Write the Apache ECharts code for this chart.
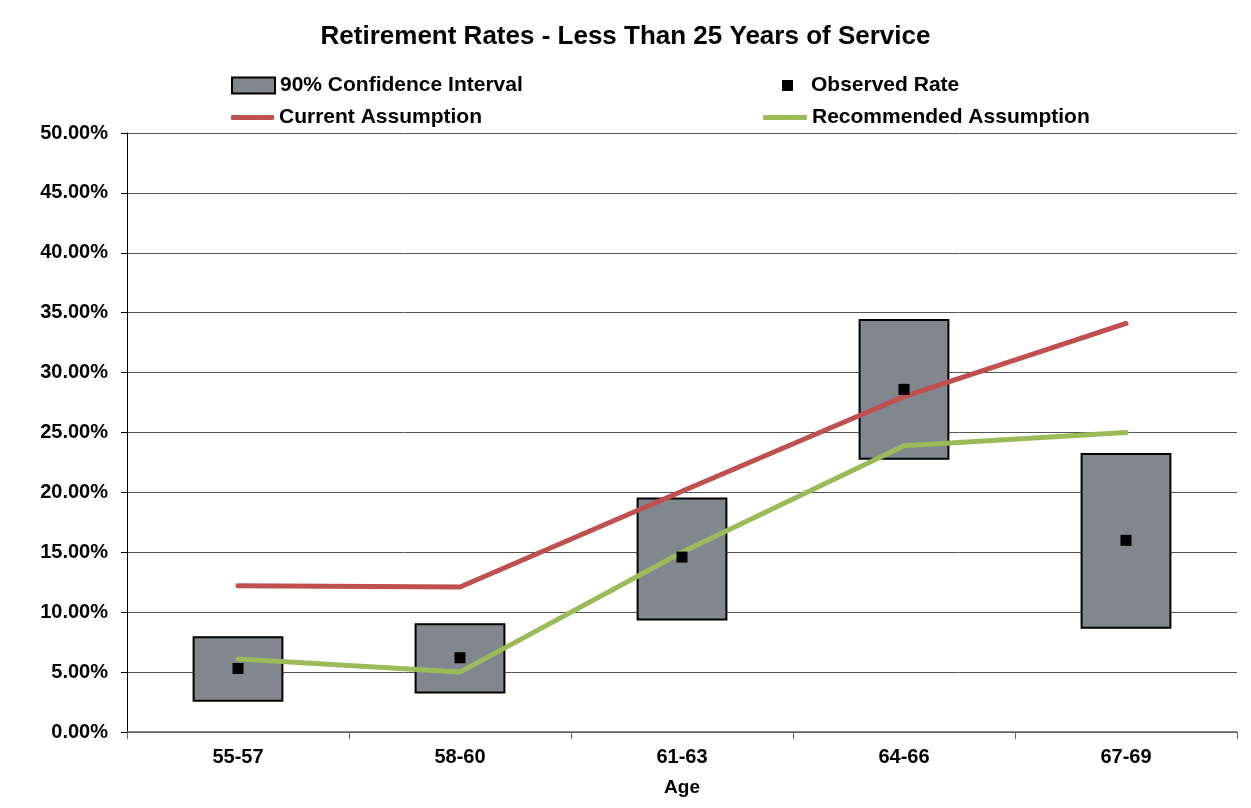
<!DOCTYPE html>
<html>
<head>
<meta charset="utf-8">
<script src="https://cdn.jsdelivr.net/npm/echarts@6/dist/echarts.min.js"></script>
<style>
  html, body { margin: 0; padding: 0; background: #fff; }
  #chart { width: 1251px; height: 808px; }
</style>
</head>
<body>
<div id="chart"></div>
<script>
// Age bands and retirement rates (fractions)
const ageGroups = ['55-57', '58-60', '61-63', '64-66', '67-69'];
const ciLow = [0.026, 0.033, 0.094, 0.228, 0.087];
const ciHigh = [0.079, 0.090, 0.195, 0.344, 0.232];
const observedRate = [0.053, 0.062, 0.146, 0.286, 0.160];
const currentAssumption = [0.122, 0.121, 0.201, 0.280, 0.341];
const recommendedAssumption = [0.061, 0.050, 0.150, 0.239, 0.250];
const yTicks = { min: 0, max: 0.5, step: 0.05 };

const FONT = '"Liberation Sans", Arial, sans-serif';
const BOX_FILL = '#80878F';
const RED = '#C0504D';
const GREEN = '#9BBB59';

const ciData = ageGroups.map((_, i) => [i, ciLow[i], ciHigh[i]]);

const chart = echarts.init(document.getElementById('chart'), null, { renderer: 'canvas' });

const legendText = { fontFamily: FONT, fontWeight: 'bold', fontSize: 21, color: '#000' };
const legendBase = { padding: 0, selectedMode: false, textStyle: legendText };

chart.setOption({
  animation: false,
  backgroundColor: '#fff',
  title: {
    text: 'Retirement Rates - Less Than 25 Years of Service',
    left: 'center',
    top: 19,
    textStyle: { fontFamily: FONT, fontWeight: 'bold', fontSize: 26, color: '#000' }
  },
  legend: [
    Object.assign({}, legendBase, {
      data: [{ name: '90% Confidence Interval', icon: 'rect' }],
      left: 231, top: 75, itemWidth: 43, itemHeight: 16
    }),
    Object.assign({}, legendBase, {
      data: [{ name: 'Current Assumption', icon: 'roundRect' }],
      left: 231, top: 107, itemWidth: 43, itemHeight: 5,
      itemStyle: { color: RED }
    }),
    Object.assign({}, legendBase, {
      data: [{ name: 'Observed Rate', icon: 'rect' }],
      left: 782, top: 75, itemWidth: 11, itemHeight: 11,
      itemStyle: { color: '#000', opacity: 1 },
      textStyle: Object.assign({ padding: [0, 0, 0, 13] }, legendText)
    }),
    Object.assign({}, legendBase, {
      data: [{ name: 'Recommended Assumption', icon: 'roundRect' }],
      left: 763, top: 107, itemWidth: 44, itemHeight: 5,
      itemStyle: { color: GREEN }
    })
  ],
  grid: { left: 127, right: 14, top: 133, bottom: 76, containLabel: false },
  xAxis: {
    type: 'category',
    data: ageGroups,
    name: 'Age',
    nameLocation: 'middle',
    nameGap: 46,
    nameTextStyle: { fontFamily: FONT, fontWeight: 'bold', fontSize: 19, color: '#000' },
    axisLine: { lineStyle: { color: '#666', width: 1.5 } },
    axisTick: { show: true, length: 7, lineStyle: { color: '#666' } },
    axisLabel: { fontFamily: FONT, fontWeight: 'bold', fontSize: 20, color: '#000', margin: 15 }
  },
  yAxis: {
    type: 'value',
    min: yTicks.min,
    max: yTicks.max,
    interval: yTicks.step,
    axisLine: { show: true, lineStyle: { color: '#000', width: 1 } },
    axisTick: { show: true, length: 6, lineStyle: { color: '#000' } },
    axisLabel: {
      fontFamily: FONT, fontWeight: 'bold', fontSize: 20, color: '#000', margin: 19,
      formatter: v => (v * 100).toFixed(2) + '%'
    },
    splitLine: { lineStyle: { color: '#555', width: 1 } }
  },
  series: [
    {
      name: '90% Confidence Interval',
      type: 'custom',
      data: ciData,
      encode: { x: 0, y: [1, 2] },
      itemStyle: { color: BOX_FILL, borderColor: '#000', borderWidth: 1.5 },
      z: 2,
      renderItem: (params, api) => {
        const idx = api.value(0);
        const lo = api.coord([idx, api.value(1)]);
        const hi = api.coord([idx, api.value(2)]);
        const w = api.size([1, 0])[0] * 0.40;
        return {
          type: 'rect',
          shape: { x: lo[0] - w / 2, y: hi[1], width: w, height: lo[1] - hi[1] },
          style: { fill: BOX_FILL, stroke: '#000', lineWidth: 2 }
        };
      }
    },
    {
      name: 'Current Assumption',
      type: 'line',
      data: currentAssumption,
      symbol: 'none',
      itemStyle: { color: RED },
      lineStyle: { color: RED, width: 5, cap: 'round', join: 'round' },
      z: 3
    },
    {
      name: 'Recommended Assumption',
      type: 'line',
      data: recommendedAssumption,
      symbol: 'none',
      itemStyle: { color: GREEN },
      lineStyle: { color: GREEN, width: 5, cap: 'round', join: 'round' },
      z: 4
    },
    {
      name: 'Observed Rate',
      type: 'scatter',
      data: observedRate,
      symbol: 'rect',
      symbolSize: 11,
      itemStyle: { color: '#000', opacity: 1 },
      z: 5
    }
  ]
});
</script>
</body>
</html>
